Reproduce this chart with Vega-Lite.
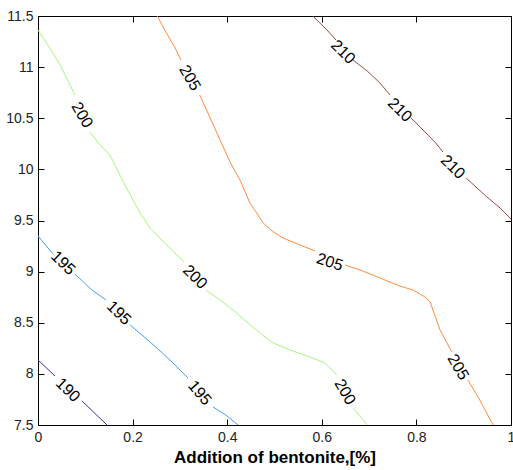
{
  "$schema": "https://vega.github.io/schema/vega-lite/v6.json",
  "width": 473,
  "height": 409,
  "autosize": {"type": "none"},
  "padding": {"left": 38, "top": 16, "right": 2, "bottom": 45},
  "background": "white",
  "config": {
    "view": {"stroke": "black", "strokeWidth": 1, "fill": null},
    "axis": {
      "grid": false,
      "ticks": true,
      "domain": false,
      "offset": -6,
      "tickSize": 6,
      "tickColor": "black",
      "tickWidth": 1,
      "zindex": 2,
      "labelFont": "Liberation Sans",
      "labelFontSize": 14,
      "labelColor": "#222222",
      "labelFlush": false,
      "labelOverlap": false,
      "titleFont": "Liberation Sans",
      "titleFontSize": 17,
      "titleFontWeight": "bold",
      "titleColor": "black"
    }
  },
  "datasets": {
    "lines": [
      {"level": 190, "seg": "190a", "i": 1, "x": 0.0, "y": 8.136},
      {"level": 190, "seg": "190a", "i": 2, "x": 0.036, "y": 7.979},
      {"level": 190, "seg": "190b", "i": 1, "x": 0.093, "y": 7.735},
      {"level": 190, "seg": "190b", "i": 2, "x": 0.146, "y": 7.5},

      {"level": 195, "seg": "195a", "i": 1, "x": 0.0, "y": 9.348},
      {"level": 195, "seg": "195a", "i": 2, "x": 0.032, "y": 9.172},
      {"level": 195, "seg": "195b", "i": 1, "x": 0.078, "y": 8.977},
      {"level": 195, "seg": "195b", "i": 2, "x": 0.114, "y": 8.820},
      {"level": 195, "seg": "195b", "i": 3, "x": 0.144, "y": 8.722},
      {"level": 195, "seg": "195c", "i": 1, "x": 0.195, "y": 8.478},
      {"level": 195, "seg": "195c", "i": 2, "x": 0.237, "y": 8.312},
      {"level": 195, "seg": "195c", "i": 3, "x": 0.279, "y": 8.136},
      {"level": 195, "seg": "195c", "i": 4, "x": 0.317, "y": 7.960},
      {"level": 195, "seg": "195d", "i": 1, "x": 0.370, "y": 7.676},
      {"level": 195, "seg": "195d", "i": 2, "x": 0.397, "y": 7.598},
      {"level": 195, "seg": "195d", "i": 3, "x": 0.423, "y": 7.5},

      {"level": 200, "seg": "200a", "i": 1, "x": 0.0, "y": 11.363},
      {"level": 200, "seg": "200a", "i": 2, "x": 0.025, "y": 11.187},
      {"level": 200, "seg": "200a", "i": 3, "x": 0.047, "y": 11.021},
      {"level": 200, "seg": "200a", "i": 4, "x": 0.078, "y": 10.727},
      {"level": 200, "seg": "200b", "i": 1, "x": 0.110, "y": 10.366},
      {"level": 200, "seg": "200b", "i": 2, "x": 0.131, "y": 10.238},
      {"level": 200, "seg": "200b", "i": 3, "x": 0.152, "y": 10.141},
      {"level": 200, "seg": "200b", "i": 4, "x": 0.173, "y": 9.945},
      {"level": 200, "seg": "200b", "i": 5, "x": 0.195, "y": 9.749},
      {"level": 200, "seg": "200b", "i": 6, "x": 0.216, "y": 9.573},
      {"level": 200, "seg": "200b", "i": 7, "x": 0.237, "y": 9.427},
      {"level": 200, "seg": "200b", "i": 8, "x": 0.268, "y": 9.280},
      {"level": 200, "seg": "200b", "i": 9, "x": 0.309, "y": 9.094},
      {"level": 200, "seg": "200c", "i": 1, "x": 0.355, "y": 8.820},
      {"level": 200, "seg": "200c", "i": 2, "x": 0.385, "y": 8.722},
      {"level": 200, "seg": "200c", "i": 3, "x": 0.412, "y": 8.625},
      {"level": 200, "seg": "200c", "i": 4, "x": 0.442, "y": 8.507},
      {"level": 200, "seg": "200c", "i": 5, "x": 0.469, "y": 8.400},
      {"level": 200, "seg": "200c", "i": 6, "x": 0.497, "y": 8.302},
      {"level": 200, "seg": "200c", "i": 7, "x": 0.533, "y": 8.233},
      {"level": 200, "seg": "200c", "i": 8, "x": 0.575, "y": 8.165},
      {"level": 200, "seg": "200c", "i": 9, "x": 0.607, "y": 8.106},
      {"level": 200, "seg": "200c", "i": 10, "x": 0.632, "y": 7.989},
      {"level": 200, "seg": "200d", "i": 1, "x": 0.666, "y": 7.666},
      {"level": 200, "seg": "200d", "i": 2, "x": 0.696, "y": 7.5},

      {"level": 205, "seg": "205a", "i": 1, "x": 0.252, "y": 11.5},
      {"level": 205, "seg": "205a", "i": 2, "x": 0.268, "y": 11.363},
      {"level": 205, "seg": "205a", "i": 3, "x": 0.290, "y": 11.187},
      {"level": 205, "seg": "205a", "i": 4, "x": 0.302, "y": 11.070},
      {"level": 205, "seg": "205b", "i": 1, "x": 0.342, "y": 10.727},
      {"level": 205, "seg": "205b", "i": 2, "x": 0.364, "y": 10.502},
      {"level": 205, "seg": "205b", "i": 3, "x": 0.385, "y": 10.287},
      {"level": 205, "seg": "205b", "i": 4, "x": 0.406, "y": 10.072},
      {"level": 205, "seg": "205b", "i": 5, "x": 0.427, "y": 9.896},
      {"level": 205, "seg": "205b", "i": 6, "x": 0.438, "y": 9.779},
      {"level": 205, "seg": "205b", "i": 7, "x": 0.448, "y": 9.671},
      {"level": 205, "seg": "205b", "i": 8, "x": 0.461, "y": 9.583},
      {"level": 205, "seg": "205b", "i": 9, "x": 0.476, "y": 9.476},
      {"level": 205, "seg": "205b", "i": 10, "x": 0.495, "y": 9.397},
      {"level": 205, "seg": "205b", "i": 11, "x": 0.518, "y": 9.329},
      {"level": 205, "seg": "205b", "i": 12, "x": 0.554, "y": 9.260},
      {"level": 205, "seg": "205b", "i": 13, "x": 0.586, "y": 9.202},
      {"level": 205, "seg": "205c", "i": 1, "x": 0.649, "y": 9.065},
      {"level": 205, "seg": "205c", "i": 2, "x": 0.681, "y": 9.016},
      {"level": 205, "seg": "205c", "i": 3, "x": 0.723, "y": 8.938},
      {"level": 205, "seg": "205c", "i": 4, "x": 0.765, "y": 8.859},
      {"level": 205, "seg": "205c", "i": 5, "x": 0.793, "y": 8.820},
      {"level": 205, "seg": "205c", "i": 6, "x": 0.818, "y": 8.752},
      {"level": 205, "seg": "205c", "i": 7, "x": 0.829, "y": 8.703},
      {"level": 205, "seg": "205c", "i": 8, "x": 0.850, "y": 8.429},
      {"level": 205, "seg": "205c", "i": 9, "x": 0.875, "y": 8.214},
      {"level": 205, "seg": "205d", "i": 1, "x": 0.909, "y": 7.940},
      {"level": 205, "seg": "205d", "i": 2, "x": 0.934, "y": 7.744},
      {"level": 205, "seg": "205d", "i": 3, "x": 0.962, "y": 7.5},

      {"level": 210, "seg": "210a", "i": 1, "x": 0.581, "y": 11.5},
      {"level": 210, "seg": "210a", "i": 2, "x": 0.611, "y": 11.363},
      {"level": 210, "seg": "210a", "i": 3, "x": 0.630, "y": 11.265},
      {"level": 210, "seg": "210b", "i": 1, "x": 0.666, "y": 11.070},
      {"level": 210, "seg": "210b", "i": 2, "x": 0.696, "y": 10.962},
      {"level": 210, "seg": "210b", "i": 3, "x": 0.723, "y": 10.845},
      {"level": 210, "seg": "210b", "i": 4, "x": 0.744, "y": 10.727},
      {"level": 210, "seg": "210c", "i": 1, "x": 0.789, "y": 10.502},
      {"level": 210, "seg": "210c", "i": 2, "x": 0.814, "y": 10.385},
      {"level": 210, "seg": "210c", "i": 3, "x": 0.841, "y": 10.258},
      {"level": 210, "seg": "210c", "i": 4, "x": 0.856, "y": 10.170},
      {"level": 210, "seg": "210d", "i": 1, "x": 0.905, "y": 9.916},
      {"level": 210, "seg": "210d", "i": 2, "x": 0.949, "y": 9.730},
      {"level": 210, "seg": "210d", "i": 3, "x": 0.977, "y": 9.622},
      {"level": 210, "seg": "210d", "i": 4, "x": 1.0, "y": 9.515}
    ],
    "labels": [
      {"id": 1, "level": 200, "x": 0.093, "y": 10.532},
      {"id": 2, "level": 205, "x": 0.321, "y": 10.894},
      {"id": 3, "level": 210, "x": 0.645, "y": 11.148},
      {"id": 4, "level": 210, "x": 0.765, "y": 10.581},
      {"id": 5, "level": 210, "x": 0.877, "y": 10.023},
      {"id": 6, "level": 195, "x": 0.053, "y": 9.084},
      {"id": 7, "level": 195, "x": 0.171, "y": 8.595},
      {"id": 8, "level": 195, "x": 0.342, "y": 7.813},
      {"id": 9, "level": 190, "x": 0.063, "y": 7.842},
      {"id": 10, "level": 200, "x": 0.332, "y": 8.947},
      {"id": 11, "level": 200, "x": 0.649, "y": 7.823},
      {"id": 12, "level": 205, "x": 0.617, "y": 9.094},
      {"id": 13, "level": 205, "x": 0.888, "y": 8.067}
    ]
  },
  "resolve": {"axis": {"x": "independent", "y": "independent"}},
  "layer": [
    {
      "data": {"name": "lines"},
      "mark": {"type": "line", "strokeWidth": 1, "interpolate": "linear", "clip": true},
      "encoding": {
        "x": {
          "field": "x", "type": "quantitative",
          "scale": {"domain": [0, 1], "nice": false, "zero": false},
          "axis": {"orient": "bottom", "values": [0, 0.2, 0.4, 0.6, 0.8, 1], "format": "~g", "zindex": 2, "labelPadding": 5, "title": "Addition of bentonite,[%]", "titlePadding": 5}
        },
        "y": {
          "field": "y", "type": "quantitative",
          "scale": {"domain": [7.5, 11.5], "nice": false, "zero": false},
          "axis": {"orient": "left", "values": [7.5, 8, 8.5, 9, 9.5, 10, 10.5, 11, 11.5], "format": "~g", "zindex": 2, "labelPadding": 5, "title": null}
        },
        "color": {
          "field": "level", "type": "nominal",
          "scale": {"domain": [190, 195, 200, 205, 210], "range": ["#34349c", "#3ea2ff", "#a4f77e", "#ff8c3c", "#a24848"]},
          "legend": null
        },
        "detail": {"field": "seg"},
        "order": {"field": "i", "type": "quantitative"}
      }
    },
    {
      "data": {"name": "labels"},
      "transform": [{"filter": {"field": "id", "oneOf": [3, 4, 5, 6, 7, 9, 10]}}],
      "mark": {"type": "text", "angle": 44, "font": "Liberation Sans", "fontSize": 16, "color": "black", "align": "center", "baseline": "middle"},
      "encoding": {
        "x": {
          "field": "x", "type": "quantitative",
          "scale": {"domain": [0, 1], "nice": false, "zero": false},
          "axis": {"orient": "top", "values": [0, 0.2, 0.4, 0.6, 0.8, 1], "zindex": 2, "labels": false, "title": null}
        },
        "y": {
          "field": "y", "type": "quantitative",
          "scale": {"domain": [7.5, 11.5], "nice": false, "zero": false},
          "axis": {"orient": "right", "values": [7.5, 8, 8.5, 9, 9.5, 10, 10.5, 11, 11.5], "zindex": 2, "labels": false, "title": null}
        },
        "text": {"field": "level", "type": "nominal"}
      }
    },
    {
      "data": {"name": "labels"},
      "transform": [{"filter": {"field": "id", "oneOf": [8]}}],
      "mark": {"type": "text", "angle": 50, "font": "Liberation Sans", "fontSize": 16, "color": "black", "align": "center", "baseline": "middle"},
      "encoding": {
        "x": {"field": "x", "type": "quantitative", "scale": {"domain": [0, 1], "nice": false, "zero": false}, "axis": null},
        "y": {"field": "y", "type": "quantitative", "scale": {"domain": [7.5, 11.5], "nice": false, "zero": false}, "axis": null},
        "text": {"field": "level", "type": "nominal"}
      }
    },
    {
      "data": {"name": "labels"},
      "transform": [{"filter": {"field": "id", "oneOf": [1, 2, 11, 13]}}],
      "mark": {"type": "text", "angle": 60, "font": "Liberation Sans", "fontSize": 16, "color": "black", "align": "center", "baseline": "middle"},
      "encoding": {
        "x": {"field": "x", "type": "quantitative", "scale": {"domain": [0, 1], "nice": false, "zero": false}, "axis": null},
        "y": {"field": "y", "type": "quantitative", "scale": {"domain": [7.5, 11.5], "nice": false, "zero": false}, "axis": null},
        "text": {"field": "level", "type": "nominal"}
      }
    },
    {
      "data": {"name": "labels"},
      "transform": [{"filter": {"field": "id", "oneOf": [12]}}],
      "mark": {"type": "text", "angle": 18, "font": "Liberation Sans", "fontSize": 16, "color": "black", "align": "center", "baseline": "middle"},
      "encoding": {
        "x": {"field": "x", "type": "quantitative", "scale": {"domain": [0, 1], "nice": false, "zero": false}, "axis": null},
        "y": {"field": "y", "type": "quantitative", "scale": {"domain": [7.5, 11.5], "nice": false, "zero": false}, "axis": null},
        "text": {"field": "level", "type": "nominal"}
      }
    }
  ]
}
